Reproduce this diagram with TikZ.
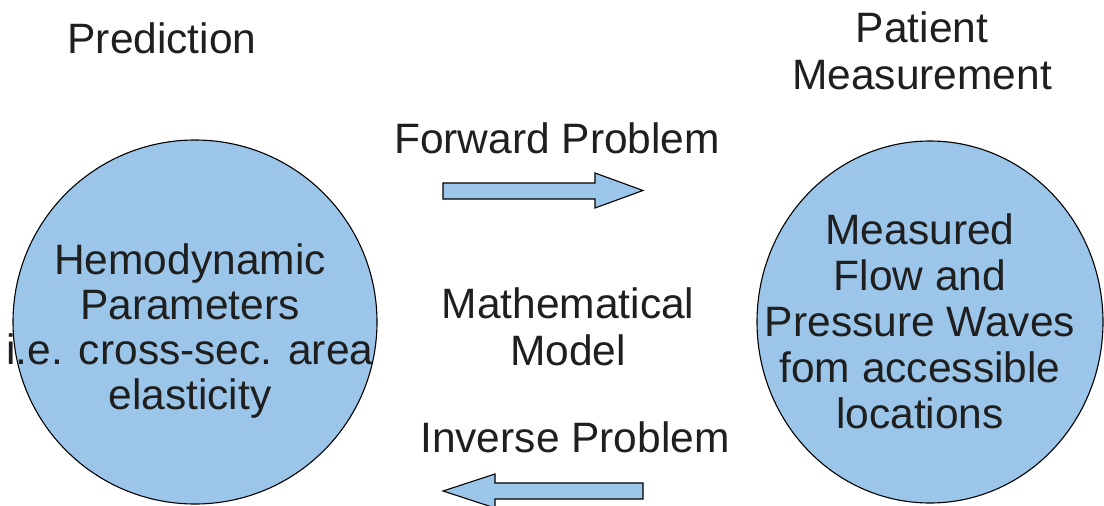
\documentclass[tikz,border=0pt]{standalone}
\usepackage{fontspec}
\setmainfont{Liberation Sans}
\usetikzlibrary{shapes.geometric}
\begin{document}
\begin{tikzpicture}[x=1pt,y=-1pt,
  bubble/.style={circle,draw=black,line width=1.1pt,fill=bubblefill,inner sep=0pt},
  lbl/.style={font=\fontsize{42.5}{45}\selectfont,text=black!88,inner sep=0pt},
  blockarrow/.style={draw=black,line width=1.1pt,fill=bubblefill,line join=miter}]
\definecolor{bubblefill}{RGB}{156,198,233}
\useasboundingbox[fill=white] (0,0) rectangle (1104,506);
% circles
\node[bubble,minimum size=364pt] (pred) at (195,322) {};
\node[bubble,ellipse,minimum width=346pt,minimum height=362pt] (meas) at (930,322) {};
% circle texts
\node[lbl,align=center] (predtxt) at (190,331) {Hemodynamic\\Parameters\\i.e. cross-sec. area\\elasticity};
\node[lbl,align=center,font=\fontsize{42.5}{46}\selectfont] (meastxt) at (920,321) {Measured\\Flow and\\Pressure Waves\\fom accessible\\locations};
% headings
\node[lbl,anchor=base] (predhead) at (162,53) {Prediction};
\node[lbl,align=center,font=\fontsize{42.5}{47}\selectfont] (meashead) at (922,51) {Patient\\Measurement};
\node[lbl,anchor=base] (fwd) at (557,153) {Forward Problem};
\node[lbl,align=center,font=\fontsize{42.5}{47}\selectfont] (model) at (568,327) {Mathematical\\Model};
\node[lbl,anchor=base] (inv) at (575,452) {Inverse Problem};
% block arrows
\draw[blockarrow] (443,183) -- (595,183) -- (595,173) -- (643,190.5) -- (595,208) -- (595,199) -- (443,199) -- cycle;
\draw[blockarrow] (643,483) -- (495,483) -- (495,474) -- (443,491) -- (495,508) -- (495,499) -- (643,499) -- cycle;
\end{tikzpicture}
\end{document}
